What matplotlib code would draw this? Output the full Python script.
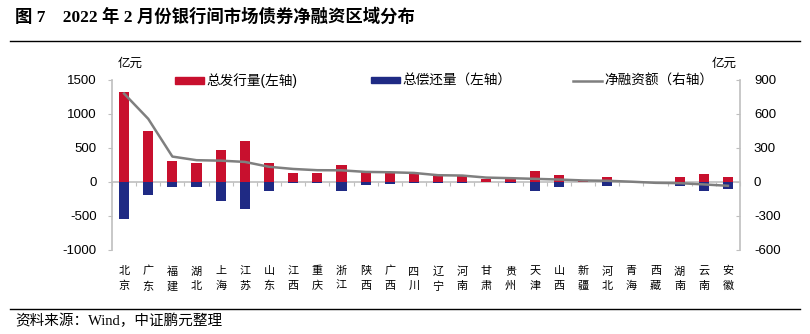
import matplotlib
matplotlib.use("Agg")
import matplotlib.pyplot as plt
import numpy as np
from matplotlib.patches import Patch
from matplotlib.lines import Line2D

plt.rcParams['font.family'] = ['Liberation Sans', 'Noto Sans CJK SC', 'DejaVu Sans']
plt.rcParams['axes.unicode_minus'] = False

regions = ['北京', '广东', '福建', '湖北', '上海', '江苏', '山东', '江西', '重庆', '浙江',
           '陕西', '广西', '四川', '辽宁', '河南', '甘肃', '贵州', '天津', '山西', '新疆',
           '河北', '青海', '西藏', '湖南', '云南', '安徽']
issue = [1322, 750, 300, 272, 471, 596, 274, 135, 130, 245,
         140, 140, 120, 91, 82, 43, 38, 163, 96, 15,
         77, 5, 3, 67, 115, 77]
repay = [-543, -197, -78, -77, -279, -404, -130, -19, -19, -135,
         -43, -38, -24, -24, -24, -5, -14, -135, -72, -5,
         -58, -3, -8, -67, -130, -101]
net = [776, 554, 222, 190, 186, 175, 132, 113, 102, 101,
       87, 84, 78, 58, 55, 37, 32, 26, 20, 12,
       9, 1, -9, -12, -23, -35]

red = '#C8102E'
blue = '#1F2A84'
grey = '#7F7F7F'
axis_grey = '#BFBFBF'

fig = plt.figure(figsize=(8.1, 3.34), dpi=100)
ax = fig.add_axes([112/810, 1-250/334, (740-112)/810, (250-79.5)/334])
x = np.arange(len(regions))

ax.bar(x, issue, width=0.42, color=red, zorder=2)
ax.bar(x, repay, width=0.42, color=blue, zorder=2)
ax.set_xlim(-0.5, len(regions)-0.5)
ax.set_ylim(-1000, 1500)
ax.set_yticks(np.arange(-1000, 1501, 500))
ax.tick_params(axis='y', direction='out', length=3, color=axis_grey, labelsize=9.5, pad=8)

ax.spines['top'].set_visible(False)
ax.spines['right'].set_visible(False)
ax.spines['left'].set_color(axis_grey)
ax.spines['left'].set_linewidth(1.2)
ax.spines['bottom'].set_position(('data', 0))
ax.spines['bottom'].set_color(axis_grey)
ax.spines['bottom'].set_linewidth(1.2)
ax.spines['bottom'].set_zorder(1)
ax.set_xticks(np.arange(len(regions)+1) - 0.5)
ax.tick_params(axis='x', direction='out', length=3, color=axis_grey, labelbottom=False)

for i, name in enumerate(regions):
    ax.text(i, -0.095, name[0] + '\n' + name[1], transform=ax.get_xaxis_transform(),
            ha='center', va='top', fontsize=8, linespacing=1.55)

ax2 = ax.twinx()
ax2.plot(x, net, color=grey, lw=1.8, zorder=3)
ax2.set_ylim(-600, 900)
ax2.set_yticks(np.arange(-600, 901, 300))
ax2.tick_params(axis='y', direction='in', length=3, color=axis_grey, labelsize=9.5, pad=10)
for s in ['top', 'left', 'bottom']:
    ax2.spines[s].set_visible(False)
ax2.spines['right'].set_color(axis_grey)
ax2.spines['right'].set_linewidth(1.2)

fig.text(118/810, 1-64/334, '亿元', fontsize=9, va='center', ha='left')
fig.text(712/810, 1-64/334, '亿元', fontsize=9, va='center', ha='left')

handles = [Patch(color=red), Patch(color=blue), Line2D([], [], color=grey, lw=1.8)]
labels = ['总发行量(左轴)', '总偿还量（左轴）', '净融资额（右轴）']
starts = [175, 371, 573]
for h, lab, x0 in zip(handles, labels, starts):
    fig.legend([h], [lab], loc='center left', frameon=False,
               bbox_to_anchor=(x0/810, 1-81/334), fontsize=9.8,
               handlelength=2.1, handleheight=0.35, handletextpad=0.2,
               borderaxespad=0, borderpad=0)

fig.text(15/810, 1-17/334, '图 7　2022 年 2 月份银行间市场债券净融资区域分布',
         fontsize=12.5, fontweight='bold', va='center', ha='left',
         family=['Liberation Serif', 'Noto Sans CJK SC'])
fig.add_artist(Line2D([0.012, 0.988], [1-41/334, 1-41/334], color='black', lw=1.0))
fig.add_artist(Line2D([0.012, 0.988], [1-309/334, 1-309/334], color='black', lw=1.0))
fig.text(15/810, 1-321/334, '资料来源：Wind，中证鹏元整理', fontsize=10.5, va='center', ha='left',
         family=['Liberation Serif', 'Noto Sans CJK SC'])

fig.savefig('out.png', dpi=100)
